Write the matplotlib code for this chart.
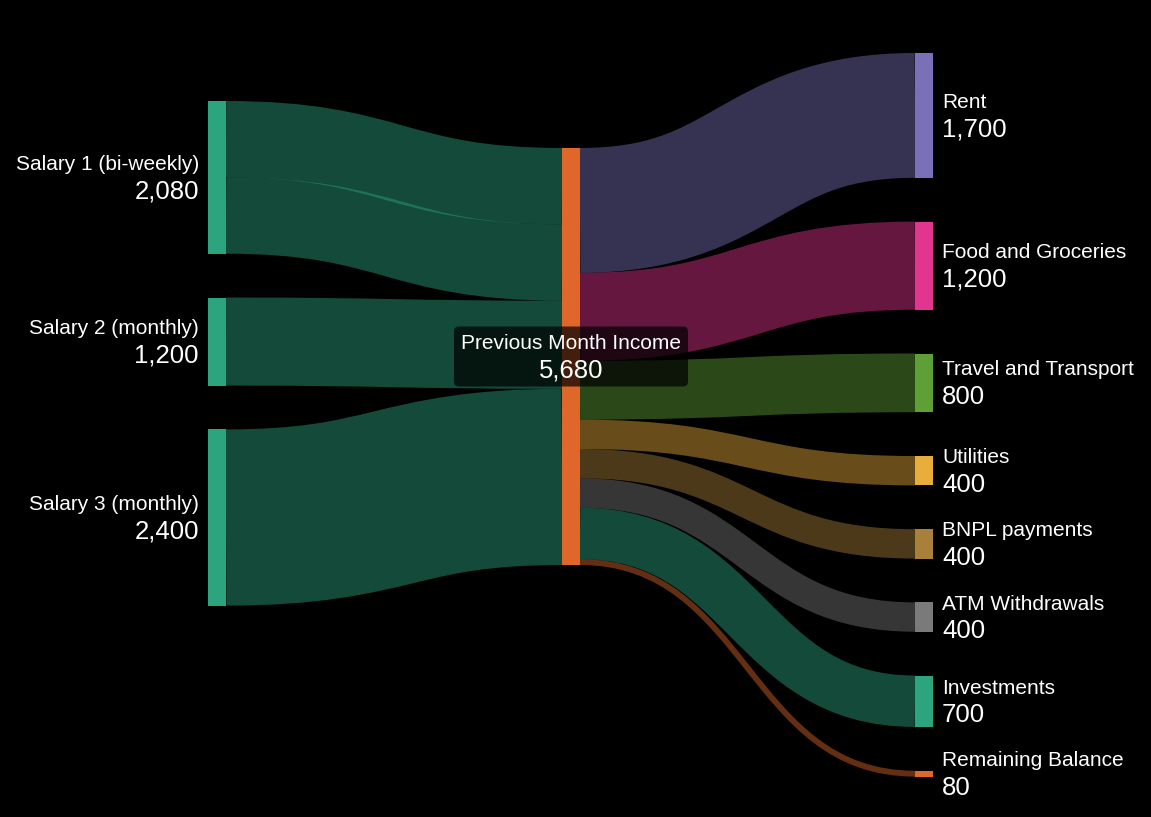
import matplotlib.pyplot as plt
from matplotlib.path import Path
from matplotlib.patches import PathPatch, Rectangle, FancyBboxPatch

# nodes: name, column, colour
node_names = ['Salary 1 (bi-weekly)', 'Salary 2 (monthly)', 'Salary 3 (monthly)',
              'Previous Month Income',
              'Rent', 'Food and Groceries', 'Travel and Transport', 'Utilities',
              'BNPL payments', 'ATM Withdrawals', 'Investments', 'Remaining Balance']
node_cols = [0, 0, 0, 1, 2, 2, 2, 2, 2, 2, 2, 2]
node_colors = ['#2ca57f', '#2ca57f', '#2ca57f', '#e0672a',
               '#7a70b8', '#e2358f', '#5fa036', '#e8ad3a',
               '#a8803a', '#7a7a7a', '#2ca57f', '#e0672a']

# links: source, target, value (salary 1 is paid twice)
link_src = [0, 0, 1, 2, 3, 3, 3, 3, 3, 3, 3, 3]
link_tgt = [3, 3, 3, 3, 4, 5, 6, 7, 8, 9, 10, 11]
link_val = [1040, 1040, 1200, 2400, 1700, 1200, 800, 400, 400, 400, 700, 80]

# layout in pixels
W, H = 1151, 817
col_x = [208, 562, 915]
col_top = [101, 148, 53]
node_w = 18
pad = 43.8
k = 417 / 5680

fig = plt.figure(figsize=(W / 100, H / 100), dpi=100, facecolor='black')
ax = fig.add_axes([0, 0, 1, 1])
ax.set_xlim(0, W)
ax.set_ylim(H, 0)
ax.axis('off')
ax.set_facecolor('black')

n = len(node_names)
val_in = [0] * n
val_out = [0] * n
for s, t, v in zip(link_src, link_tgt, link_val):
    val_out[s] += v
    val_in[t] += v
node_val = [max(a, b) for a, b in zip(val_in, val_out)]

y0 = [0.0] * n
y1 = [0.0] * n
for c in range(3):
    y = col_top[c]
    for i in range(n):
        if node_cols[i] == c:
            y0[i] = y
            y1[i] = y + node_val[i] * k
            y = y1[i] + pad

# link positions at both ends
order = sorted(range(len(link_val)), key=lambda j: (link_src[j], y0[link_tgt[j]], j))
sy = {}
cur = list(y0)
for j in order:
    s = link_src[j]
    sy[j] = cur[s]
    cur[s] += link_val[j] * k
order = sorted(range(len(link_val)), key=lambda j: (link_tgt[j], y0[link_src[j]], j))
ty = {}
cur = list(y0)
for j in order:
    t = link_tgt[j]
    ty[j] = cur[t]
    cur[t] += link_val[j] * k

for j in range(len(link_val)):
    s, t = link_src[j], link_tgt[j]
    w = link_val[j] * k
    xa = col_x[node_cols[s]] + node_w
    xb = col_x[node_cols[t]]
    ya = sy[j] + w / 2
    yb = ty[j] + w / 2
    xm = (xa + xb) / 2
    path = Path([(xa, ya), (xm, ya), (xm, yb), (xb, yb)],
                [Path.MOVETO, Path.CURVE4, Path.CURVE4, Path.CURVE4])
    col = node_colors[t] if node_cols[s] == 1 else node_colors[s]
    ax.add_patch(PathPatch(path, fill=False, edgecolor=col, alpha=0.45,
                           lw=w * 0.72, capstyle='butt', zorder=1))

for i in range(n):
    x = col_x[node_cols[i]]
    ax.add_patch(Rectangle((x, y0[i]), node_w, y1[i] - y0[i],
                           facecolor=node_colors[i], lw=0, zorder=2))

font = 'Liberation Sans'
for i in range(n):
    c = node_cols[i]
    yc = (y0[i] + y1[i]) / 2
    if c == 0:
        x, ha = col_x[0] - 9, 'right'
    elif c == 2:
        x, ha = col_x[2] + node_w + 9, 'left'
    else:
        x, ha = col_x[1] + node_w / 2, 'center'
        ax.add_patch(FancyBboxPatch((x - 112, yc - 25), 224, 50,
                                    boxstyle='round,pad=5,rounding_size=5',
                                    facecolor='black', alpha=0.7, lw=0, zorder=3))
    ax.text(x, yc - 7.5, node_names[i], color='white', ha=ha, va='baseline',
            fontsize=15, family=font, zorder=4)
    ax.text(x, yc + 21, f'{node_val[i]:,}', color='white', ha=ha, va='baseline',
            fontsize=18.5, family=font, zorder=4)

fig.savefig('out.png', dpi=100, facecolor='black')
